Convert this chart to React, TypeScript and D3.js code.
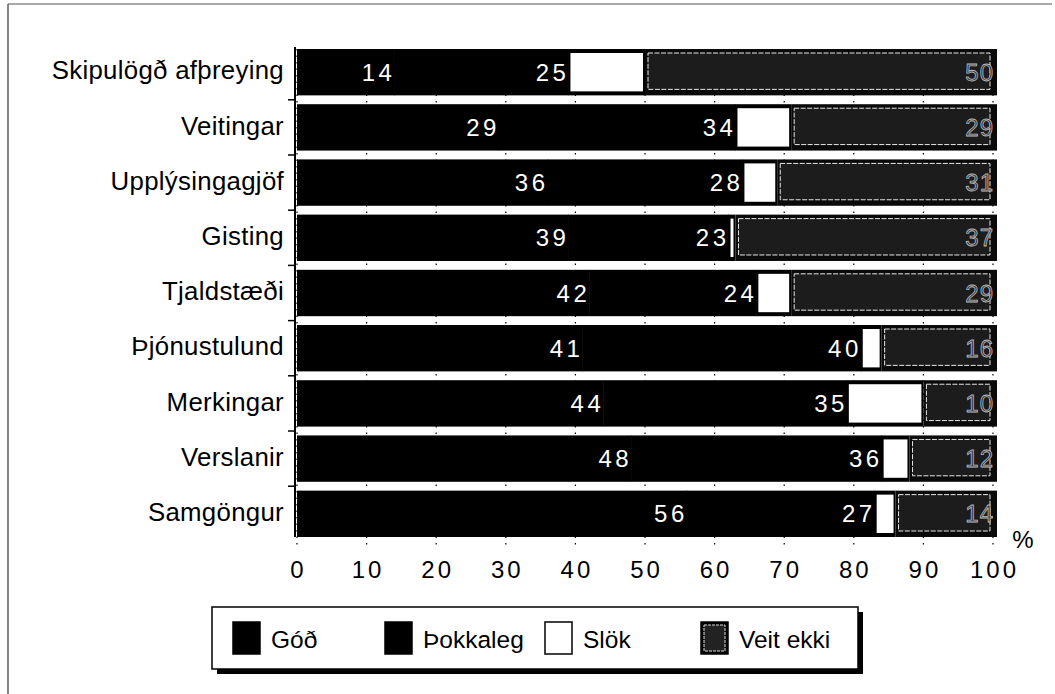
import React, { useEffect, useRef } from 'react';
import * as d3 from 'd3';

const categories = [
  'Skipulögð afþreying',
  'Veitingar',
  'Upplýsingagjöf',
  'Gisting',
  'Tjaldstæði',
  'Þjónustulund',
  'Merkingar',
  'Verslanir',
  'Samgöngur',
];
const god = [14, 29, 36, 39, 42, 41, 44, 48, 56];
const thokkaleg = [25, 34, 28, 23, 24, 40, 35, 36, 27];
const slok = [11, 8, 5, 1, 5, 3, 11, 4, 3];
const veitEkki = [50, 29, 31, 37, 29, 16, 10, 12, 14];
const seriesNames = ['Góð', 'Þokkaleg', 'Slök', 'Veit ekki'];
const xTicks = [0, 10, 20, 30, 40, 50, 60, 70, 80, 90, 100];

const FONT = '"Liberation Sans", Arial, Helvetica, sans-serif';

export default function App() {
  const ref = useRef<SVGSVGElement>(null);

  useEffect(() => {
    const svg = d3.select(ref.current);
    svg.selectAll('*').remove();

    const left = 297;
    const right = 993;
    const top = 49;
    const bottom = 537;

    const x = d3.scaleLinear().domain([0, 100]).range([left, right]);
    const y = d3.scaleBand().domain(categories).range([top, bottom]).paddingInner(0.16).paddingOuter(0);

    // frame (left and top only)
    svg.append('line').attr('x1', 8).attr('x2', 8).attr('y1', 4).attr('y2', 694).attr('stroke', '#333').attr('stroke-width', 1.2);
    svg.append('line').attr('x1', 8).attr('x2', 1052).attr('y1', 4).attr('y2', 4).attr('stroke', '#555').attr('stroke-width', 1.2);

    // dotted grid
    svg
      .append('g')
      .selectAll('line')
      .data(xTicks)
      .enter()
      .append('line')
      .attr('x1', (d) => x(d))
      .attr('x2', (d) => x(d))
      .attr('y1', top)
      .attr('y2', bottom + 8)
      .attr('stroke', '#000')
      .attr('stroke-width', 1.2)
      .attr('stroke-dasharray', '1.5,5');

    const rows = categories.map((c, i) => {
      const vals = [god[i], thokkaleg[i], slok[i], veitEkki[i]];
      let acc = 0;
      return vals.map((v, k) => {
        const seg = { cat: c, k, v, x0: acc, x1: acc + v };
        acc += v;
        return seg;
      });
    });

    const bh = y.bandwidth();
    const g = svg.append('g');

    rows.forEach((segs) => {
      const yy = y(segs[0].cat) as number;
      // Góð + Þokkaleg: solid black
      segs.slice(0, 2).forEach((s) => {
        g.append('rect')
          .attr('x', x(s.x0))
          .attr('y', yy)
          .attr('width', x(s.x1) - x(s.x0) + 0.5)
          .attr('height', bh)
          .attr('fill', '#000');
      });
      // Slök: white with black edge
      const sl = segs[2];
      g.append('rect')
        .attr('x', x(sl.x0))
        .attr('y', yy)
        .attr('width', x(sl.x1) - x(sl.x0))
        .attr('height', bh)
        .attr('fill', '#000');
      g.append('rect')
        .attr('x', x(sl.x0) + 2)
        .attr('y', yy + 4)
        .attr('width', Math.max(0, x(sl.x1) - x(sl.x0) - 4))
        .attr('height', bh - 8)
        .attr('fill', '#fff');
      // Veit ekki: dark with white dashed inner border and shadow
      const ve = segs[3];
      g.append('rect')
        .attr('x', x(ve.x0))
        .attr('y', yy)
        .attr('width', x(ve.x1) - x(ve.x0) + 4)
        .attr('height', bh)
        .attr('fill', '#0a0a0a');
      g.append('rect')
        .attr('x', x(ve.x0) + 3)
        .attr('y', yy + 4)
        .attr('width', x(ve.x1) - x(ve.x0) - 6)
        .attr('height', bh - 10)
        .attr('fill', '#1c1c1c')
        .attr('stroke', '#e8e8e8')
        .attr('stroke-width', 1)
        .attr('stroke-dasharray', '5,1.5');
    });

    // value labels
    rows.forEach((segs) => {
      const yy = (y(segs[0].cat) as number) + bh / 2;
      [0, 1].forEach((k) => {
        const s = segs[k];
        g.append('text')
          .attr('x', x(s.x1) + 1)
          .attr('y', yy)
          .attr('dy', '0.36em')
          .attr('text-anchor', 'end')
          .attr('fill', '#fff')
          .style('font-family', FONT)
          .style('font-size', '24px')
          .style('letter-spacing', '3.5px')
          .text(s.v);
      });
      const ve = segs[3];
      g.append('text')
        .attr('x', x(ve.x1) + 1)
        .attr('y', yy)
        .attr('dy', '0.36em')
        .attr('text-anchor', 'end')
        .attr('fill', '#333')
        .attr('stroke', '#bbb')
        .attr('stroke-width', 0.8)
        .style('font-family', FONT)
        .style('font-size', '24px')
        .style('letter-spacing', '1px')
        .text(ve.v);
    });

    // left axis
    svg.append('line').attr('x1', left - 2).attr('x2', left - 2).attr('y1', top - 2).attr('y2', bottom).attr('stroke', '#000').attr('stroke-width', 2);
    const step = y.step();
    svg
      .append('g')
      .selectAll('line')
      .data(categories.slice(1))
      .enter()
      .append('line')
      .attr('x1', left - 9)
      .attr('x2', left - 2)
      .attr('y1', (d) => (y(d) as number) - (step - bh) / 2)
      .attr('y2', (d) => (y(d) as number) - (step - bh) / 2)
      .attr('stroke', '#000')
      .attr('stroke-width', 1.5);

    // category labels
    svg
      .append('g')
      .selectAll('text')
      .data(categories)
      .enter()
      .append('text')
      .attr('x', left - 13)
      .attr('y', (d) => (y(d) as number) + bh / 2 - 2)
      .attr('dy', '0.36em')
      .attr('text-anchor', 'end')
      .style('font-family', FONT)
      .style('font-size', '25.8px')
      .style('letter-spacing', '0.3px')
      .text((d) => d);

    // x tick labels
    svg
      .append('g')
      .selectAll('text')
      .data(xTicks)
      .enter()
      .append('text')
      .attr('x', (d) => x(d) + 1.5)
      .attr('y', bottom + 32)
      .attr('dy', '0.36em')
      .attr('text-anchor', 'middle')
      .style('font-family', FONT)
      .style('font-size', '24px')
      .style('letter-spacing', '3px')
      .text((d) => d);

    svg
      .append('text')
      .attr('x', 1023)
      .attr('y', bottom + 2)
      .attr('dy', '0.36em')
      .attr('text-anchor', 'middle')
      .style('font-family', FONT)
      .style('font-size', '24px')
      .text('%');

    // legend
    const lx = 212;
    const ly = 607;
    const lw = 646;
    const lh = 62;
    svg.append('rect').attr('x', lx + 5).attr('y', ly + 5).attr('width', lw).attr('height', lh).attr('fill', '#000');
    svg.append('rect').attr('x', lx).attr('y', ly).attr('width', lw).attr('height', lh).attr('fill', '#fff').attr('stroke', '#000').attr('stroke-width', 1.5);

    const legendCols = [233, 385, 545, 701];
    const lg = svg
      .append('g')
      .selectAll('g')
      .data(seriesNames)
      .enter()
      .append('g')
      .attr('transform', (d, i) => `translate(${legendCols[i]}, ${ly + 15})`);

    lg.append('rect')
      .attr('width', 27)
      .attr('height', 32)
      .attr('fill', (d, i) => (i === 2 ? '#fff' : '#000'))
      .attr('stroke', '#000')
      .attr('stroke-width', 1.5);
    lg.filter((d, i) => i === 3)
      .append('rect')
      .attr('x', 3)
      .attr('y', 3)
      .attr('width', 21)
      .attr('height', 26)
      .attr('fill', '#222')
      .attr('stroke', '#ddd')
      .attr('stroke-width', 1)
      .attr('stroke-dasharray', '3,1');

    lg.append('text')
      .attr('x', 38)
      .attr('y', 17)
      .attr('dy', '0.36em')
      .style('font-family', FONT)
      .style('font-size', '24.5px')
      .text((d) => d);
  }, []);

  return (
    <svg
      ref={ref}
      width={1055}
      height={694}
      style={{ position: 'absolute', left: 0, top: 0, display: 'block', background: '#fff' }}
    />
  );
}
